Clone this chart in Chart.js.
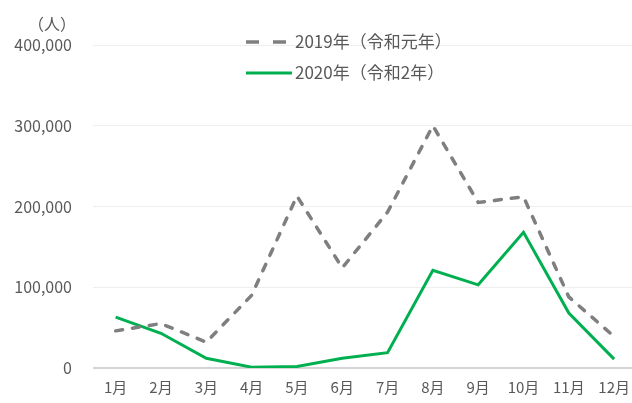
<!DOCTYPE html>
<html>
<head>
<meta charset="utf-8">
<script src="https://cdn.jsdelivr.net/npm/chart.js@4"></script>
<style>
  html, body { margin: 0; padding: 0; background: #fff; overflow: hidden; }
  #wrap { position: relative; width: 640px; height: 406px; }
</style>
</head>
<body>
<div id="wrap"><canvas id="visitorChart"></canvas></div>
<script>
const months = ['1月', '2月', '3月', '4月', '5月', '6月', '7月', '8月', '9月', '10月', '11月', '12月'];
const visitors2019 = [46000, 55000, 32000, 90000, 213000, 124000, 193000, 300000, 205000, 212000, 88000, 39000];
const visitors2020 = [63000, 43000, 12000, 1000, 2000, 12000, 19000, 121000, 103000, 168000, 68000, 11000];
const seriesNames = ['2019年（令和元年）', '2020年（令和2年）'];
const unitLabel = '（人）';

const FONT = '"Noto Sans CJK JP", "Noto Sans", sans-serif';
const TEXT = '#595959';

// legend stacked vertically above the lines, like the Excel original
const legendPlugin = {
    id: 'stackedLegend',
    afterDraw(chart) {
        const ctx = chart.ctx;
        ctx.save();
        ctx.font = '16px ' + FONT;
        ctx.fillStyle = TEXT;
        ctx.textBaseline = 'middle';
        ctx.fillText(unitLabel, 28, 24);

        ctx.font = '17px ' + FONT;
        const rows = [42, 73];
        chart.data.datasets.forEach((ds, i) => {
            const y = rows[i];
            ctx.beginPath();
            ctx.strokeStyle = ds.borderColor;
            ctx.lineWidth = ds.borderWidth;
            ctx.lineCap = 'butt';
            ctx.setLineDash(ds.borderDash.length ? [13, 14] : []);
            ctx.moveTo(246, y);
            ctx.lineTo(292, y);
            ctx.stroke();
            ctx.setLineDash([]);
            ctx.fillStyle = TEXT;
            ctx.fillText(ds.label, 295, y);
        });
        ctx.restore();
    }
};

const ctx = document.getElementById('visitorChart').getContext('2d');
const visitorChart = new Chart(ctx, {
    type: 'line',
    data: {
        labels: months,
        datasets: [{
            label: seriesNames[0],
            data: visitors2019,
            borderColor: '#7f7f7f',
            borderWidth: 3.5,
            borderDash: [7, 10],
            borderCapStyle: 'round',
            pointRadius: 0,
            tension: 0,
            fill: false
        }, {
            label: seriesNames[1],
            data: visitors2020,
            borderColor: '#00b050',
            borderWidth: 3,
            borderDash: [],
            pointRadius: 0,
            tension: 0,
            fill: false
        }]
    },
    options: {
        responsive: true,
        maintainAspectRatio: false,
        animation: false,
        layout: { padding: { top: 45, right: 1, bottom: 0, left: 0 } },
        plugins: {
            legend: { display: false },
            tooltip: { enabled: false }
        },
        scales: {
            x: {
                offset: true,
                grid: { display: false, drawTicks: false },
                border: { display: false },
                ticks: { color: TEXT, font: { family: FONT, size: 15 }, padding: 10, maxRotation: 0, autoSkip: false }
            },
            y: {
                min: 0,
                max: 400000,
                afterFit(scale) { scale.width = 93; },
                border: { display: false },
                grid: {
                    drawTicks: false,
                    color: c => c.tick.value === 0 ? '#d4d4d4' : '#eeeeee',
                    lineWidth: c => c.tick.value === 0 ? 2 : 1
                },
                ticks: {
                    stepSize: 100000,
                    padding: 21,
                    color: TEXT,
                    font: { family: FONT, size: 16 },
                    callback: v => v.toLocaleString('en-US')
                }
            }
        }
    },
    plugins: [legendPlugin]
});
</script>
</body>
</html>
